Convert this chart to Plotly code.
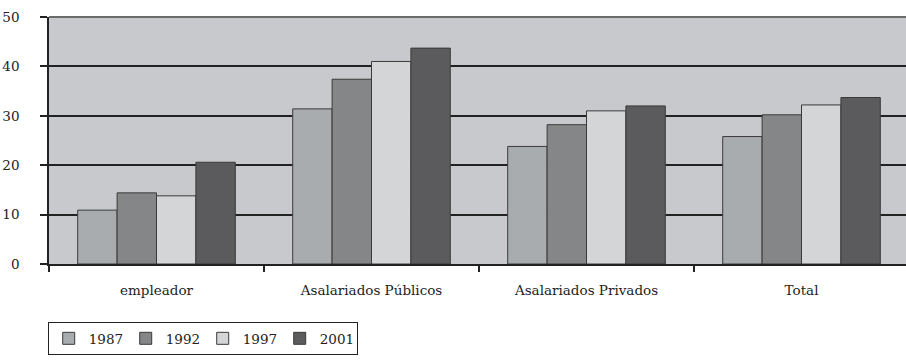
import plotly.graph_objects as go

categories = ["empleador", "Asalariados Públicos", "Asalariados Privados", "Total"]
years = ["1987", "1992", "1997", "2001"]
v1987 = [10.9, 31.4, 23.8, 25.8]
v1992 = [14.4, 37.4, 28.2, 30.2]
v1997 = [13.8, 41.0, 31.0, 32.2]
v2001 = [20.6, 43.7, 32.0, 33.7]
series = [v1987, v1992, v1997, v2001]
colors = ["#a9acaf", "#858687", "#d4d5d7", "#5b5b5d"]
ytick_vals = [0, 10, 20, 30, 40, 50]

font = dict(family="DejaVu Serif", size=13.5, color="#222222")

fig = go.Figure()
for name, vals, col in zip(years, series, colors):
    fig.add_trace(go.Bar(
        x=categories, y=vals, name=name,
        marker=dict(color=col, line=dict(color="#3a3a3a", width=1)),
    ))

fig.update_layout(
    width=906, height=363,
    margin=dict(l=49, r=0, t=17, b=99),
    paper_bgcolor="white",
    plot_bgcolor="#c8c9cc",
    barmode="group",
    bargap=0.267,
    bargroupgap=0,
    font=font,
    showlegend=True,
    legend=dict(
        orientation="h",
        x=-0.0015, xanchor="left",
        y=-0.235, yanchor="top",
        bordercolor="#222222", borderwidth=1,
        bgcolor="white",
        font=font,
        entrywidth=32, entrywidthmode="pixels",
        traceorder="normal",
    ),
    xaxis=dict(
        type="category",
        range=[-0.5, 3.486],
        showline=True, linecolor="#222222", linewidth=1.5,
        ticks="outside", tickson="boundaries", ticklen=6, tickcolor="#222222", tickwidth=1.5,
        showgrid=False, zeroline=False,
        ticklabelstandoff=13,
        tickfont=font,
        fixedrange=True,
    ),
    yaxis=dict(
        range=[0, 50],
        tickvals=ytick_vals,
        ticktext=[str(v) for v in ytick_vals],
        showline=True, linecolor="#222222", linewidth=1.5,
        ticks="outside", ticklen=7, tickcolor="#222222", tickwidth=1.5,
        showgrid=True, gridcolor="#222222", gridwidth=1.5,
        zeroline=False,
        ticklabelstandoff=18,
        tickfont=font,
        fixedrange=True,
    ),
    shapes=[dict(type="line", xref="paper", yref="paper", x0=0, x1=1, y0=1, y1=1,
                 line=dict(color="#6b6d6d", width=2))],
)

fig.write_html("out.html")
